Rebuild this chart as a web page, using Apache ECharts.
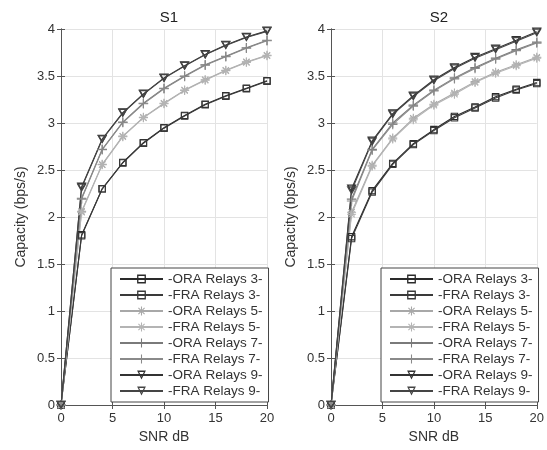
<!DOCTYPE html>
<html><head><meta charset="utf-8">
<script src="https://cdn.jsdelivr.net/npm/echarts@6/dist/echarts.min.js"></script>
<style>html,body{margin:0;padding:0;background:#fff}#c{width:547px;height:450px}</style>
</head><body><div id="c"></div>
<script>
var snr = [0, 2, 4, 6, 8, 10, 12, 14, 16, 18, 20];
var seriesNames = ['-ORA Relays 3-', '-FRA Relays 3-', '-ORA Relays 5-', '-FRA Relays 5-', '-ORA Relays 7-', '-FRA Relays 7-', '-ORA Relays 9-', '-FRA Relays 9-'];
var titles = ['S1', 'S2'];
var yTicks = [0, 0.5, 1, 1.5, 2, 2.5, 3, 3.5, 4];
var xTicks = [0, 5, 10, 15, 20];

// S1
var s1_ora3 = [0, 1.81, 2.30, 2.58, 2.79, 2.95, 3.08, 3.20, 3.29, 3.37, 3.45];
var s1_fra3 = [0, 1.80, 2.30, 2.575, 2.785, 2.945, 3.075, 3.195, 3.285, 3.365, 3.445];
var s1_ora5 = [0, 2.06, 2.56, 2.86, 3.06, 3.21, 3.35, 3.46, 3.56, 3.65, 3.72];
var s1_fra5 = [0, 2.05, 2.555, 2.855, 3.055, 3.205, 3.345, 3.455, 3.555, 3.645, 3.715];
var s1_ora7 = [0, 2.20, 2.72, 3.01, 3.21, 3.37, 3.50, 3.62, 3.71, 3.80, 3.88];
var s1_fra7 = [0, 2.19, 2.715, 3.005, 3.205, 3.365, 3.495, 3.615, 3.705, 3.795, 3.875];
var s1_ora9 = [0, 2.32, 2.83, 3.11, 3.31, 3.48, 3.61, 3.73, 3.83, 3.915, 3.98];
var s1_fra9 = [0, 2.31, 2.825, 3.105, 3.305, 3.475, 3.605, 3.725, 3.825, 3.91, 3.975];
// S2
var s2_ora3 = [0, 1.79, 2.28, 2.57, 2.78, 2.93, 3.07, 3.17, 3.28, 3.36, 3.43];
var s2_fra3 = [0, 1.77, 2.265, 2.56, 2.77, 2.92, 3.055, 3.16, 3.265, 3.35, 3.42];
var s2_ora5 = [0, 2.05, 2.55, 2.84, 3.05, 3.20, 3.32, 3.44, 3.54, 3.62, 3.70];
var s2_fra5 = [0, 2.03, 2.54, 2.83, 3.035, 3.19, 3.305, 3.43, 3.53, 3.61, 3.69];
var s2_ora7 = [0, 2.19, 2.72, 3.00, 3.19, 3.35, 3.48, 3.59, 3.69, 3.78, 3.86];
var s2_fra7 = [0, 2.17, 2.71, 2.985, 3.18, 3.34, 3.47, 3.58, 3.68, 3.77, 3.85];
var s2_ora9 = [0, 2.30, 2.81, 3.10, 3.29, 3.46, 3.59, 3.70, 3.79, 3.88, 3.97];
var s2_fra9 = [0, 2.28, 2.80, 3.09, 3.28, 3.45, 3.58, 3.69, 3.78, 3.87, 3.96];

var panelData = [
  [s1_ora3, s1_fra3, s1_ora5, s1_fra5, s1_ora7, s1_fra7, s1_ora9, s1_fra9],
  [s2_ora3, s2_fra3, s2_ora5, s2_fra5, s2_ora7, s2_fra7, s2_ora9, s2_fra9]
];

var colors = ['#2a2a2a', '#3a3a3a', '#a8a8a8', '#b4b4b4', '#7a7a7a', '#8a8a8a', '#333333', '#454545'];
// marker outlines as filled shapes (hollow centres, like MATLAB markers)
var squareM = 'path://M0,0L10,0L10,10L0,10ZM1.5,1.5L1.5,8.5L8.5,8.5L8.5,1.5Z';
var triDownM = 'path://M0,0L10,0L5,8.66ZM2.3,1.3L5,6.0L7.7,1.3Z';
var asteriskM = 'path://M4.4,0L5.6,0L5.6,10L4.4,10ZM0,4.4L10,4.4L10,5.6L0,5.6Z' +
  'M1.92,1.08L8.92,8.08L8.08,8.92L1.08,1.92ZM1.08,8.08L8.08,1.08L8.92,1.92L1.92,8.92Z';
var plusM = 'path://M4.4,0L5.6,0L5.6,10L4.4,10ZM0,4.4L10,4.4L10,5.6L0,5.6Z';
var symbols = [squareM, squareM, asteriskM, asteriskM, plusM, plusM, triDownM, triDownM];
var symSizes = [7.5, 7.5, 9, 9, 9.5, 9.5, 10, 10];

var FONT = '"Liberation Sans", Arial, sans-serif';
var grids = [
  {left: 61, right: 280, top: 29, bottom: 45},
  {left: 331, right: 10, top: 29, bottom: 45}
];
var xAxes = [], yAxes = [], series = [], legends = [], titleArr = [];
for (var p = 0; p < 2; p++) {
  xAxes.push({
    gridIndex: p, type: 'value', min: 0, max: 20, interval: 5,
    name: 'SNR dB', nameLocation: 'middle', nameGap: 25,
    nameTextStyle: {fontFamily: FONT, fontSize: 14, color: '#333'},
    axisLine: {show: true, lineStyle: {color: '#555', width: 1}},
    axisTick: {show: true, inside: true, length: 4, lineStyle: {color: '#555'}},
    axisLabel: {fontFamily: FONT, fontSize: 13, color: '#333', margin: 7},
    splitLine: {show: true, lineStyle: {color: '#e3e3e3', width: 1}}
  });
  xAxes.push({
    gridIndex: p, type: 'value', min: 0, max: 20, interval: 5, position: 'top',
    axisLine: {show: true, lineStyle: {color: '#555', width: 1}},
    axisTick: {show: true, inside: true, length: 4, lineStyle: {color: '#555'}},
    axisLabel: {show: false}, splitLine: {show: false}
  });
  yAxes.push({
    gridIndex: p, type: 'value', min: 0, max: 4, interval: 0.5,
    name: 'Capacity (bps/s)', nameLocation: 'middle', nameGap: 33,
    nameTextStyle: {fontFamily: FONT, fontSize: 14, color: '#333'},
    axisLine: {show: true, lineStyle: {color: '#555', width: 1}},
    axisTick: {show: true, inside: true, length: 4, lineStyle: {color: '#555'}},
    axisLabel: {fontFamily: FONT, fontSize: 13, color: '#333', margin: 6},
    splitLine: {show: true, lineStyle: {color: '#e3e3e3', width: 1}}
  });
  yAxes.push({
    gridIndex: p, type: 'value', min: 0, max: 4, interval: 0.5, position: 'right',
    axisLine: {show: true, lineStyle: {color: '#555', width: 1}},
    axisTick: {show: true, inside: true, length: 4, lineStyle: {color: '#555'}},
    axisLabel: {show: false}, splitLine: {show: false}
  });
  titleArr.push({
    text: titles[p], left: p === 0 ? 164 : 434, top: 5, textAlign: 'center',
    textStyle: {fontFamily: FONT, fontSize: 15, fontWeight: 'normal', color: '#222'}
  });
  for (var i = 0; i < seriesNames.length; i++) {
    var d = panelData[p][i].map(function (v, k) { return [snr[k], v]; });
    series.push({
      name: seriesNames[i], type: 'line', xAxisIndex: p * 2, yAxisIndex: p * 2,
      data: d, symbol: symbols[i], symbolSize: symSizes[i], symbolKeepAspect: true,
      showAllSymbol: true, clip: false, animation: false,
      lineStyle: {color: colors[i], width: 1.1},
      itemStyle: {color: colors[i], borderWidth: 0},
      emphasis: {disabled: true}
    });
  }
  legends.push({
    orient: 'vertical', left: p === 0 ? 111 : 381, top: 268,
    data: seriesNames.slice(), itemWidth: 43, itemHeight: 11, itemGap: 2,
    padding: [4, 6, 4, 8], backgroundColor: '#fff', borderColor: '#444', borderWidth: 1,
    textStyle: {fontFamily: FONT, fontSize: 13.5, color: '#333'},
    selectedMode: false
  });
}

var chart = echarts.init(document.getElementById('c'), null, {renderer: 'canvas'});
chart.setOption({
  animation: false,
  title: titleArr,
  grid: grids,
  xAxis: xAxes,
  yAxis: yAxes,
  legend: legends,
  series: series
});
</script>
</body></html>
